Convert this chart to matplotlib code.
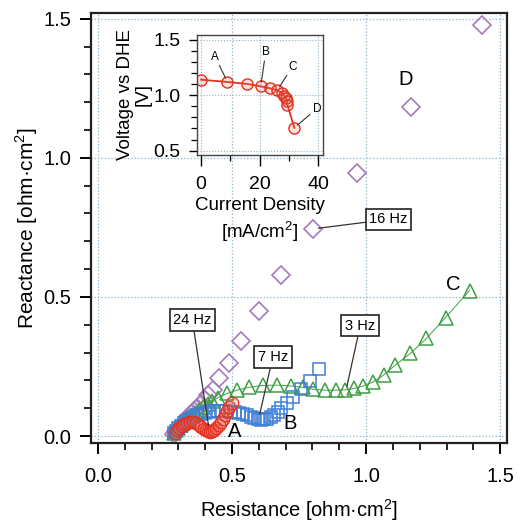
import matplotlib
matplotlib.use("Agg")
import matplotlib.pyplot as plt
from matplotlib.ticker import MultipleLocator

plt.rcParams['font.family'] = ['Liberation Sans', 'DejaVu Sans']
plt.rcParams['mathtext.fontset'] = 'custom'
plt.rcParams['mathtext.rm'] = 'Liberation Sans'

# main plot: Nyquist data (resistance, reactance) in ohm*cm2
a_res = [0.288, 0.295, 0.303, 0.312, 0.322, 0.332, 0.343, 0.354, 0.365, 0.375, 0.385, 0.394,
         0.402, 0.410, 0.418, 0.426, 0.434, 0.442, 0.450, 0.458, 0.466, 0.474, 0.482, 0.490, 0.498]
a_rea = [0.010, 0.020, 0.029, 0.037, 0.043, 0.047, 0.049, 0.049, 0.046, 0.041, 0.034, 0.027,
         0.021, 0.017, 0.016, 0.018, 0.023, 0.030, 0.039, 0.050, 0.062, 0.075, 0.089, 0.103, 0.117]

b_res = [0.285, 0.292, 0.300, 0.309, 0.319, 0.330, 0.342, 0.355, 0.369, 0.384, 0.399, 0.415,
         0.431, 0.447, 0.463, 0.479, 0.495, 0.511, 0.527, 0.542, 0.556, 0.569, 0.582, 0.595,
         0.608, 0.620, 0.632, 0.645, 0.657, 0.670, 0.684, 0.705, 0.728, 0.759, 0.790, 0.824]
b_rea = [0.010, 0.019, 0.028, 0.037, 0.046, 0.054, 0.062, 0.069, 0.075, 0.080, 0.084, 0.087,
         0.089, 0.090, 0.090, 0.089, 0.088, 0.086, 0.083, 0.079, 0.074, 0.069, 0.064, 0.061,
         0.059, 0.060, 0.063, 0.068, 0.076, 0.086, 0.100, 0.120, 0.141, 0.168, 0.199, 0.240]

c_res = [0.285, 0.292, 0.300, 0.309, 0.318, 0.328, 0.339, 0.351, 0.364, 0.378, 0.393, 0.409,
         0.427, 0.447, 0.482, 0.518, 0.563, 0.615, 0.668, 0.718, 0.763, 0.803, 0.846, 0.888,
         0.921, 0.956, 0.990, 1.027, 1.065, 1.109, 1.165, 1.225, 1.296, 1.386]
c_rea = [0.012, 0.020, 0.029, 0.038, 0.047, 0.056, 0.065, 0.074, 0.083, 0.093, 0.103, 0.114,
         0.126, 0.138, 0.153, 0.165, 0.175, 0.182, 0.183, 0.180, 0.175, 0.168, 0.165, 0.165,
         0.166, 0.171, 0.180, 0.195, 0.219, 0.255, 0.297, 0.351, 0.426, 0.523]

d_res = [0.285, 0.292, 0.300, 0.308, 0.317, 0.327, 0.337, 0.348, 0.359, 0.371, 0.384, 0.398,
         0.412, 0.428, 0.451, 0.488, 0.534, 0.600, 0.684, 0.803, 0.965, 1.167, 1.433]
d_rea = [0.008, 0.018, 0.028, 0.038, 0.048, 0.058, 0.068, 0.079, 0.090, 0.102, 0.115, 0.130,
         0.146, 0.166, 0.207, 0.261, 0.343, 0.450, 0.579, 0.745, 0.947, 1.183, 1.478]

# inset: polarization curve
cur_dens = [0.0, 9.0, 15.6, 20.4, 23.6, 26.1, 27.6, 28.4, 29.0, 29.3, 29.5, 31.9]
voltage = [1.141, 1.120, 1.103, 1.081, 1.063, 1.045, 1.022, 0.997, 0.973, 0.946, 0.916, 0.706]

red = '#e2321e'
blue = '#3f7fd6'
green = '#3f9f45'
purple = '#a27cbc'
gridc = '#8fb3c9'

fig = plt.figure(figsize=(5.17, 5.28), dpi=100)
ax = fig.add_axes([0.176, 0.161, 0.805, 0.814])

ax.plot(c_res, c_rea, color=green, lw=0.7, marker='^', ms=10, mfc='none', mec=green, mew=1.1, zorder=3)
ax.plot(b_res, b_rea, lw=0, marker='s', ms=8.5, mfc='none', mec=blue, mew=1.1, zorder=4)
ax.plot(a_res, a_rea, lw=0, marker='o', ms=9, mfc=(0.95, 0.35, 0.3, 0.25), mec=red, mew=0.9, zorder=5)
ax.plot(d_res, d_rea, lw=0, marker='D', ms=9, mfc='none', mec=purple, mew=1.2, zorder=2)

ax.set_xlim(-0.026, 1.526)
ax.set_ylim(-0.025, 1.52)
ax.xaxis.set_major_locator(MultipleLocator(0.5))
ax.xaxis.set_minor_locator(MultipleLocator(0.1))
ax.yaxis.set_major_locator(MultipleLocator(0.5))
ax.yaxis.set_minor_locator(MultipleLocator(0.1))
ax.xaxis.set_major_formatter(lambda v, p: f"{v:.1f}")
ax.yaxis.set_major_formatter(lambda v, p: f"{v:.1f}")
ax.tick_params(which='major', direction='out', length=8, width=1.4, labelsize=14.5, pad=6)
ax.tick_params(axis='x', which='major', pad=9)
ax.tick_params(which='minor', direction='out', length=5, width=1.2)
ax.grid(True, which='major', color=gridc, ls=':', lw=0.9)
for s in ax.spines.values():
    s.set_linewidth(1.6)
    s.set_color('#222222')
ax.set_xlabel("Resistance [ohm·cm$^2$]", fontsize=14.5, labelpad=8)
ax.set_ylabel("Reactance [ohm·cm$^2$]", fontsize=15, labelpad=3)

# letters
for lbl, x, y in [("A", 0.509, 0.015), ("B", 0.715, 0.046), ("C", 1.324, 0.543), ("D", 1.146, 1.28)]:
    ax.text(x, y, lbl, fontsize=14.5, ha='center', va='center', zorder=6)

# frequency callouts
box = dict(boxstyle='square,pad=0.25', fc='white', ec='#222222', lw=1.2)
arr = dict(arrowstyle='-', color='#333333', lw=0.9, shrinkA=0, shrinkB=0)
ax.annotate("24 Hz", xy=(0.412, 0.040), xytext=(0.352, 0.417), fontsize=10.5,
            ha='center', va='center', bbox=box, arrowprops=arr, zorder=7)
ax.annotate("7 Hz", xy=(0.603, 0.078), xytext=(0.652, 0.284), fontsize=10.5,
            ha='center', va='center', bbox=box, arrowprops=arr, zorder=7)
ax.annotate("3 Hz", xy=(0.928, 0.177), xytext=(0.978, 0.397), fontsize=10.5,
            ha='center', va='center', bbox=box, arrowprops=arr, zorder=7)
ax.annotate("16 Hz", xy=(0.822, 0.747), xytext=(1.084, 0.779), fontsize=10.5,
            ha='center', va='center', bbox=box, arrowprops=arr, zorder=7)

# inset
ins = fig.add_axes([197 / 517, 1 - 155 / 528, 126 / 517, 120 / 528])
ins.patch.set_alpha(0)
ins.plot(cur_dens, voltage, color=red, lw=1.3, marker='o', ms=8, mfc=(0.95, 0.4, 0.35, 0.2), mec=red, mew=1.0)
ins.set_xlim(-1.4, 41.7)
ins.set_ylim(0.46, 1.545)
ins.xaxis.set_major_locator(MultipleLocator(20))
ins.xaxis.set_minor_locator(MultipleLocator(10))
ins.yaxis.set_major_locator(MultipleLocator(0.5))
ins.yaxis.set_minor_locator(MultipleLocator(0.1))
ins.yaxis.set_major_formatter(lambda v, p: f"{v:.1f}")
ins.tick_params(which='major', direction='out', length=6, width=1.0, labelsize=14, pad=6)
ins.tick_params(axis='x', which='major', length=8, pad=7)
ins.tick_params(which='minor', direction='out', length=4, width=0.9)
ins.grid(True, which='major', color=gridc, ls=':', lw=0.8)
for s in ins.spines.values():
    s.set_linewidth(1.0)
    s.set_color('#444444')
ins.set_xlabel("Current Density\n[mA/cm$^2$]", fontsize=13.5, labelpad=3, linespacing=1.3)
ins.set_ylabel("Voltage vs DHE\n[V]", fontsize=13.5, labelpad=1, linespacing=1.1)

arr2 = dict(arrowstyle='-', color='#333333', lw=0.8, shrinkA=0, shrinkB=3)
for lbl, tx, ty, px, py in [("A", 4.8, 1.35, 9.0, 1.120), ("B", 22.1, 1.39, 20.4, 1.081),
                            ("C", 31.2, 1.26, 26.1, 1.045), ("D", 39.6, 0.88, 31.9, 0.706)]:
    ins.annotate(lbl, xy=(px, py), xytext=(tx, ty), fontsize=8.5, ha='center', va='center',
                 arrowprops=arr2)

fig.savefig("out.png", dpi=100)
